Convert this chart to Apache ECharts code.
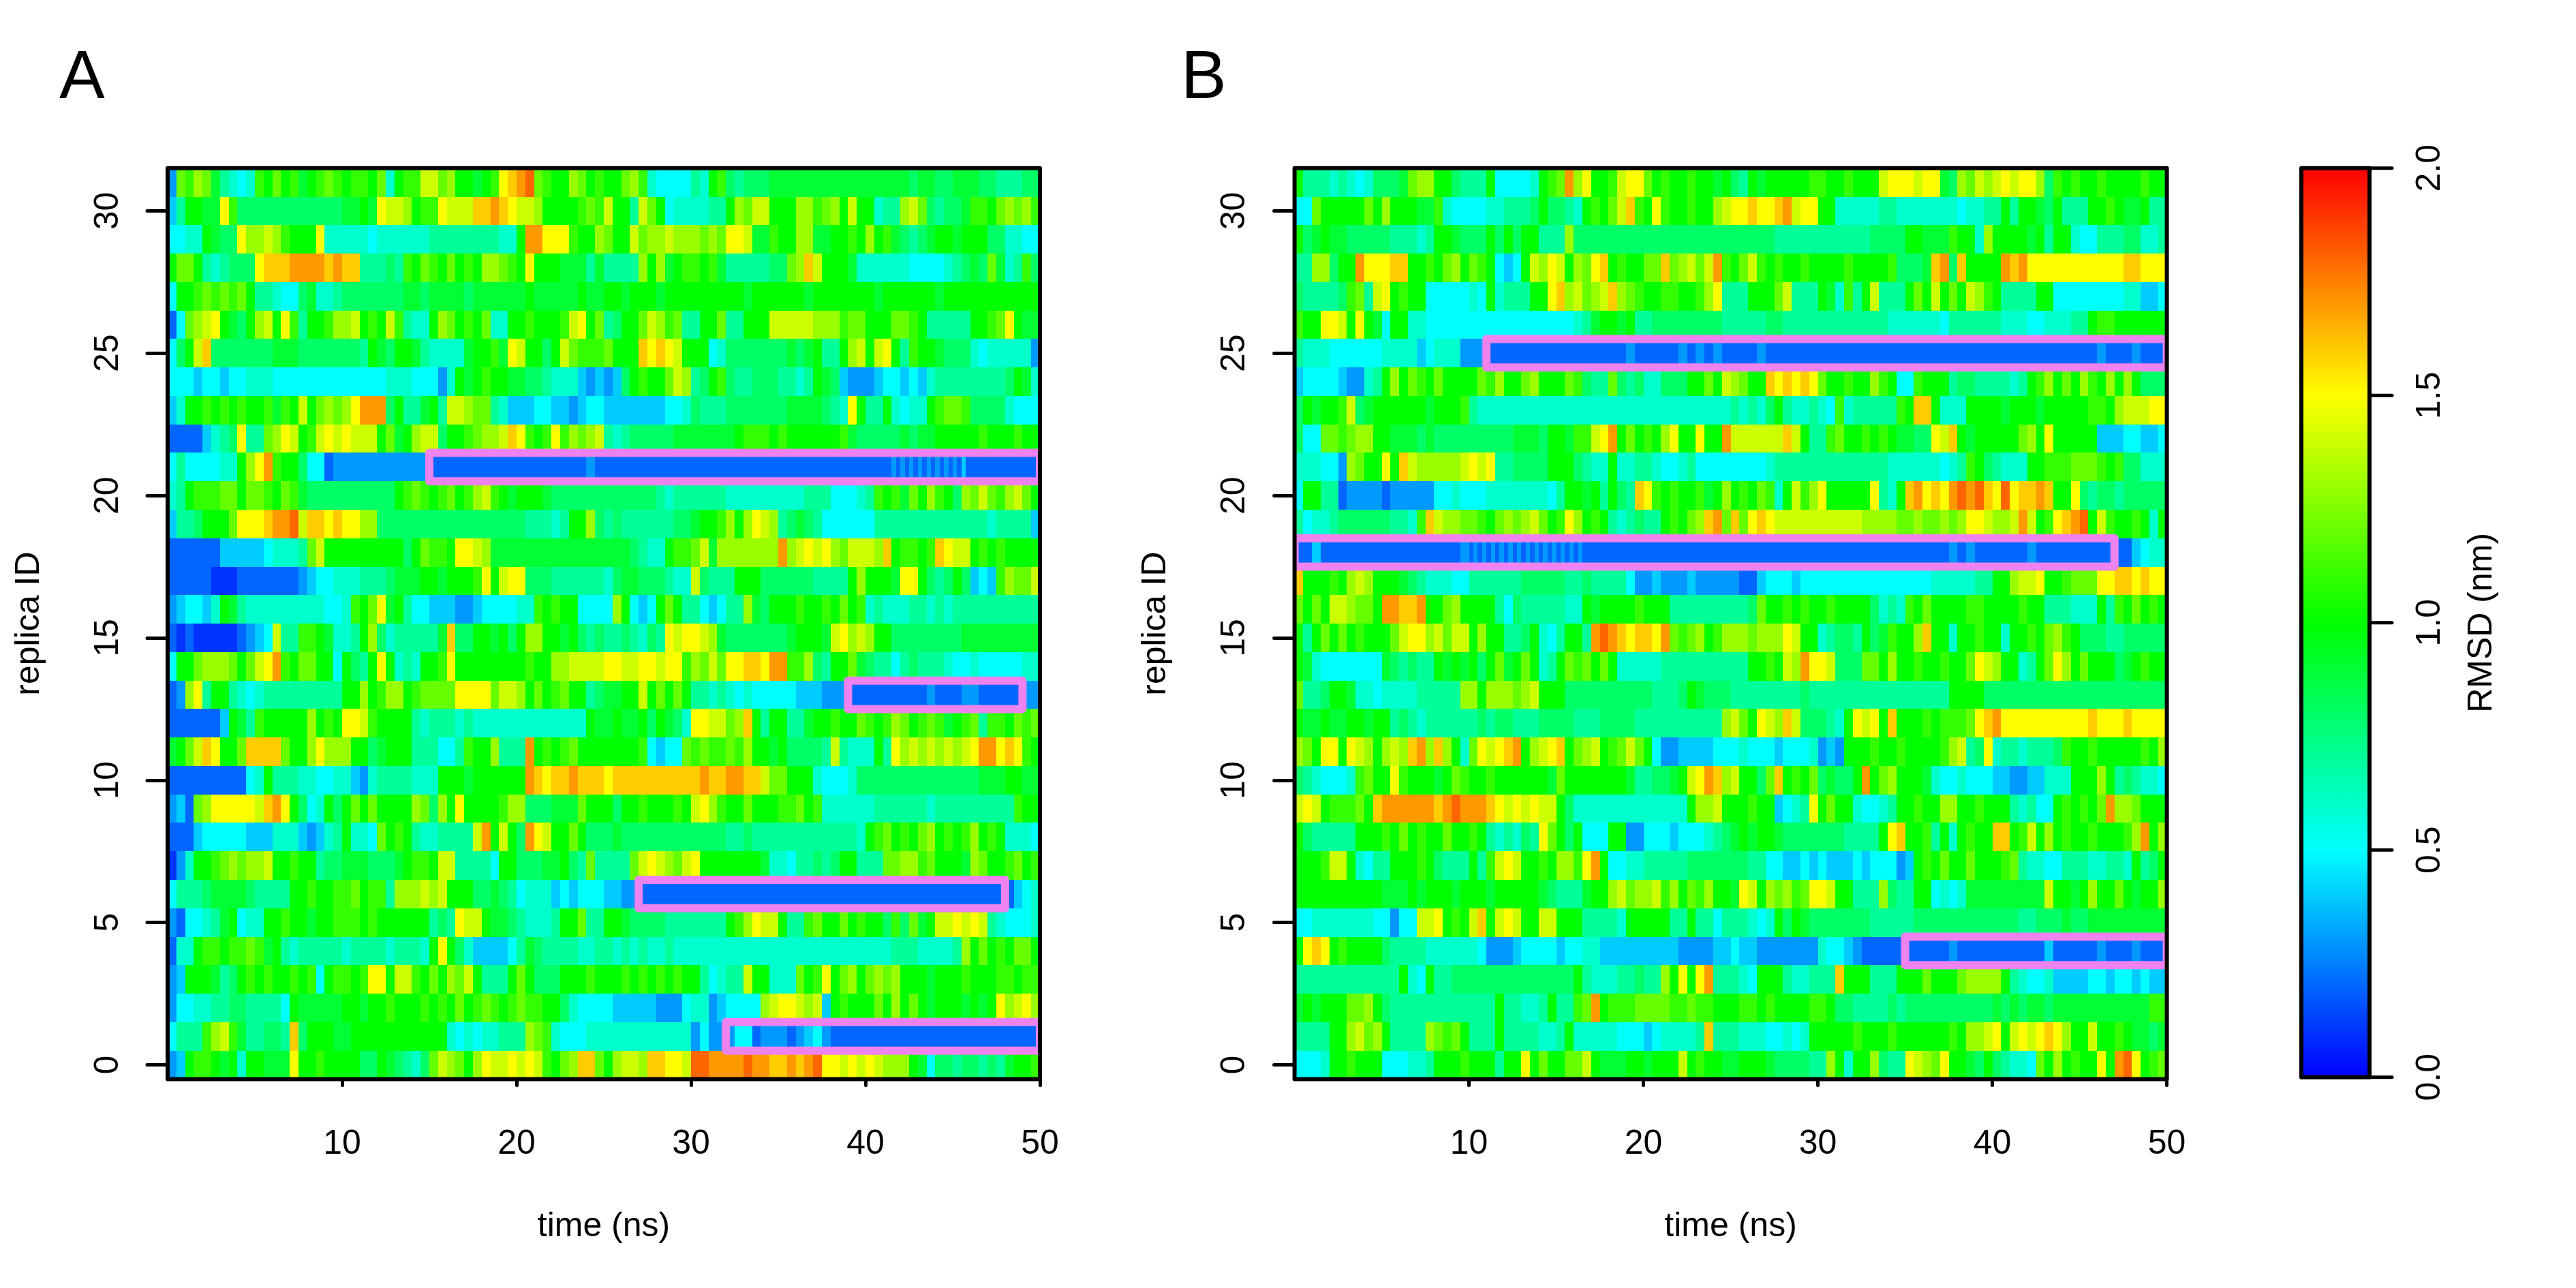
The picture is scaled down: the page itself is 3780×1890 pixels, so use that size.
<!DOCTYPE html>
<html>
<head>
<meta charset="utf-8">
<style>html,body{margin:0;padding:0;background:#fff}#c{width:3780px;height:1890px}</style>
<script src="https://cdn.jsdelivr.net/npm/echarts@6/dist/echarts.min.js"></script>
</head>
<body>
<div id="c"></div>
<script>
// RMSD. One string per replica, replica 31 first, replica 0 last.
// Each string has ten space-separated groups, one per 5 ns. Each character is an RMSD level in 0.1 nm steps:
// 0-9 = 0.0-0.9, a = 1.0, b = 1.1 ... k = 2.0
const rowsA = [
"3cbdc97656 bacab9abcb abbac6abbe ecdaa9abfg hicbaadcab aacdb65555 76ab878889 9999999999 9999989988 9998877788",
"47aa99fb88 8888888888 99a9feedab bfeeegghgf eedaaaabcb eaa7eca566 6677adceea aaddbcdaea a677dec878 89bbacdcdb",
"5566a988fd dedbaaaf66 6665666666 7777777766 ahhfffbaad caaecddedd dcdcffe99b aadd99aaba dab98789aa 9aaa886655",
"acca767888 fggghhhhgh gg77787bac bacabaddcb afaaa99979 7777dad9ab bab9777778 8cdgeaaa96 6666655556 7898c967b8",
"5aabcbcbca 7765589667 8888888998 9999899999 9a99999a99 aa9aaa9aaa aaaaaa9aaa aaa9aaaaaa a9aaaaaa9a aaaaaaaaaa",
"25cdefa98a deafb7aabd deabaeb766 adcabac66a abaaabefac 78aacedbc7 7aac77aaae eeeedddbcc aaaccba777 77aabcfa99",
"58aeg88888 8899988888 887a98aa97 66669aab9f eaa8aecbbb caaagfgfea aa56888888 8989a77ade aefa7baa98 8865666663",
"5554554556 6655555555 5555566655 536a9abaa9 9887666434 348abaaced 78ab877888 7767a98433 3455454677 7777778a96",
"46aabababa ab9baeacdc dfhhh8a779 a7eedcc764 4455443455 4444444556 8777888888 89999876fa 77a6566abc cb88886555",
"22224678f7 7cdfeabefe feeeac9ade e8aabcddeg fbabfbdcde 7678888899 99999abbba baaaaaab98 88889899aa aaabaaabaa",
"57555566ad fhbaa85523 3333333333 2222222222 2222222232 2222222222 2222222222 2222222222 22222232323232323232 32422222222222222222",
"67abbbccac cbacb98888 888888abcb abcabdeba9 aaa9888888 8888887677 7777666666 6667775556 7bab9cadba 8dcecbdeca",
"4778aaacff fghhieggfg ffdd888888 8888888888 877767aad8 7877777788 9aabdadfed 7898755555 5777777777 7777677774",
"2222224444 456667ceaa aaaaaaa8ac bbaffed999 9999999999 9998766abb ce9ddddddd hdefefdcee edgabbabgf eeababaaaa",
"2222211122 2222234556 667778999a a9aaabfaef f888777777 6899888766 e8777aaa88 88887777ad aaa9ffa878 a8454bdcce",
"345546a976 6666666655 6bacf9a755 4443345555 66babaa555 5da545aca7 754577d98a aabaabacab 6766677676 7777777777",
"2121111123 45e77bba96 67ad867777 79g88aa9a8 addaa9a878 7787687fef fed9888888 89aaa9efde daa8888888 8999999999",
"5aacdddcac efhbaccaa5 a87afa676a abfaaaaaaa abaaddeeee ffeeffeffb dcecffggfh hbbd87aac9 8775787776 5565555566",
"23df7aa765 6777777777 aadabddabc cccffffcee dacabcaa78 99aaeacaca 7767656555 5544433322 2222222322 2332222233",
"2222224a97 baaaaadaba ffebaaaa76 7776766666 66666666a9 9a99a8a986 ffeecdga7a a779aabaac babdcabcb9 abc7bbacbc",
"9acegfaacg gggcaadfdd daa89aaa77 7557baad77 7hababcaaa aaaab5455c bcbbcbdaa9 a88887e766 6a7fdedede defhhfgfba",
"2222222225 6a77766556 6436777766 6aaa9aaaaa ahgfgghggg fggggggggg ghgghhggec caaa655568 8888888888 888999aa99",
"342cdfffff eghfa856a8 acacaaaadc 8dafaaaabd d888999caa a8aabaaaba efdbaacaaa bbcab66666 6777777677 7777777baa",
"2224555554 4466643467 a665caba76 67777ehaea 8hfeaaca88 8988888888 8888778777 7777777776 abcabacdab abdaba6665",
"136aabcdcd deaabaa788 9998889abb aee77775aa 88899a87c7 777cefedce faaaaaaa96 6577878aa7 77ccddbcaa a9dcaabcab",
"5777899998 7777aabaab bcabb7ddde deaaa88987 5666454555 4433222222 2222222222 2222222222 2222222222 2222222456",
"3255679a56 6aabaa9aab bbabaaaaaa 787feea998 76667aac77 aa98888777 7777abdfee a77bcaacab aa8b8c9aee fefe765556",
"266abbabbc b9a7677777 6777767776 afa8644445 7987777667 7676766766 6666666666 6666666666 6667776666 7dacabacca",
"34aaa978ab abaabab5ab babffaeeba cadcea777a ca888aaaba aababababa a75677eaa6 66cabfacda cdcdaaa9aa abaaabbabb",
"3556677887 7775a99999 aa9aabaaab abacabcbab cbbaa86555 5444443335 66345555de ffede4abaa acadaca9aa a9a9afdefd",
"5777bdeb97 7887g8aaa9 9aaaaaaaaa aa65656677 7dcb655566 6666666666 3533355233 3234532222 2222222222 2222222222",
"34abba9a6a a999faabaa aa88a98768 cedcadfeef efebacdggc adeedggffe iihhhhihhg ghghiffefe feddda9588 7887879aab"
];
const rowsB = [
"a777676568 889cddaa87 77a55556ab chdfaabeff cabaabaa9a 87a9aaaaab baabaaaeff feff98dced efeffd8bab aabaaaabaa",
"55caaaaaca daaa99b655 55667778a8 876abacegb afbaabaade ffgffgheff aa66666776 6666665667 7a7aa98a77 7aaba99a77",
"a89a998888 877767aa98 88a8a8aa77 7d88888888 8888888888 8888877777 7777778888 aa999baa6d aaaa9a7aa6 5577788667",
"77dd8aahff fggaabacda cba545aedf eadcfgabaa ccgcdecehb acebabaaba aaabaaaab8 889gh8gaaa ahghffffff fffffggfff",
"877778bc7e fabaa55555 65a6777aaf gdecdegdcb aabbaabdf7 77aaace777 a96b7ae777 acaeacaedb a7777aa555 5555566445",
"baaffeafa9 5aa6655555 5555555555 55679aa9a7 7888888887 7777887777 7777777766 6666577777 7666556667 7abbaaaaaa",
"7666555555 6666456663 3322222222 2222222232 2222323232 2223222222 2222222222 2222222222 2222222222 2232223222",
"4555543367 adacbacaaa acbdaacdaa acb877c878 66888aacae dcaagfgfgf caabaadba5 5baaa78877 7767abdaca dbadada888",
"8a9aabe89a aaaaa9aaab 7666666666 6666666666 6666666666 76768a7667 65b677777b agga666aaa a9aaa9aaaa abbadeeeff",
"855ccbcdda a999898888 888889998a a9bbefhaca badfaafaah eeeeeegea7 7bcaababa9 988fega9aa aaacdafaaa aa44455445",
"666553dcaa fageddddde fef778888a aa8766a667 7655675555 5555677777 7777777766 6666567ba8 7666aabbbc ccbab88666",
"5aa7723333 2333335565 5566666665 7aa9a7a87g fbabaab9ad abacb6aebd faaaaaf76a ghfgfhihig fifgghgaaf 8788788888",
"7566788888 8776bgeddc cbacdcdeca bfdaba7678 77abacdghc gcfgfeeeee eeeeeddddc cdccdcdffe ddeheabfgh iaebaaba6a",
"2242222222 2222222223 23232323232323232323 23232322222222222222 2222222222 2222222222 2222222222 2222232322 2222322222 2222224566",
"gaaabadeda aa98766655 7777778888 8778777753 3433343333 3224555455 5555555555 5556666677 aadeefaabc ccffggfgff",
"cacaeedcca hhgghaacda aaa7587777 766a9aaaab aaa7777777 778caababa abaaaa8676 bacaaaabba aaabaa7776 66a7bacaba",
"a7acacabaa aceffdecee adaa778a65 7aa7hihgfg gfhcbcdabd ddcdddfeaa 67887a89ba adgaa6aaba a6aabacdba 8887788888",
"a965555555 987877a9a9 a8ac9aca67 acbcaca666 6677777777 77aabaedhf fe888ccada abaabaacfe daa67acfda caaa89abaa",
"c778aa9665 666677777d dadddcdeaa a888888888 87778a9888 7777777787 7777777777 77777aaaa8 8888888888 8888888888",
"a99a99aa9a a787677777 7878877788 8877788887 777777777d ecafedge88 876afefaga aababbbcfg hfffffffff fgfffgffff",
"dcaffafeda dedghdgda6 cfefghadef gacdeabcec a533444455 5655545556 343aaabaab aaaabde78f 67767778ba abaaaaabad",
"8765556bca afbaaa9acb aabaaaaaa9 caaaaaaa97 7889aefhgd eaa8cgabac 8988ahacda aa96556555 443344666a aada787665",
"efeabbbcag hhhhhhghih hhgfefefee a866666666 66666addea aabaa4567f acaa65567a abaaddaaba aa76755aba bachddcaaa",
"a877777aaa bacabaacaa ba767687fc a8a555aa33 5554555678 9a9aa98888 8887777afg aab7a6abaa ggabeadaba abaaabdhad",
"aaabeea657 7aaaba8777 a7befeaaba ddbfha5566 7777788888 8877554454 5444545553 4abacaacaa abc7665577 766776a78a",
"aaaaaaaaaa 999a9aaa9a aa9aaaaa98 7779aadecd debdacbdaa 9feadcdbcf feaa777d87 7aa5656999 999999eaa9 adaaca9aad",
"5566666665 5355eefaba egaefeaaee aaa77776aa aaa77a7757 77656a8a98 8888887777 7888888888 8887788898 8999999999",
"afgfabaaaa 8777766666 6533345555 4556644444 4444333344 5443333333 6554322222 2222232222 2222224222 2232223222",
"7777777777 77a65a7788 8888888888 88a7666778 77dafafh77 765aaa7667 77gaaa777a aacaaacddd da76556444 4554554544",
"9a9aaaccda 8777777777 777a77667a 77bchabbbc cccbbcbbaa abbabaaaab ba88777787 8888888888 9898998999 99999999bb",
"7777aadecd a7777dcbca 777a777766 7a66666555 4566667g77 766655656a aaaabaaaba aaaaabadde faefefgfda aeaaba9989",
"5556aabaaa 555667aaab aaa7aafaca accea999aa 9aaaeabaa9 9aaa988887 7da6aad877 fedcfaa98a 87665cadab aafahifabc"
];
// Highlighted stretches: [start ns, end ns, replica]
const boxesA = [[15,50,21],[39,49,13],[27,48,6],[32,50,1]];
const boxesB = [[11,50,25],[0,47,18],[35,50,4]];
const xTicks = [10,20,30,40,50];
const yTicks = [0,5,10,15,20,25,30];
const barTicks = [0,0.5,1,1.5,2];
const barColors = ['#0000ff','#00ffff','#00ff00','#ffff00','#ff0000'];

const FONT = 'Liberation Sans';
const LEVELS = '0123456789abcdefghijk';
const GROUP_NS = 5;

function decode(rows){
  const out = [];
  rows.forEach((row, i) => {
    const replica = rows.length - 1 - i;
    row.trim().split(/\s+/).forEach((group, g) => {
      const step = GROUP_NS / group.length;
      for (let k = 0; k < group.length; k++) {
        out.push([g*GROUP_NS + k*step, g*GROUP_NS + (k+1)*step, replica, LEVELS.indexOf(group[k]) * 0.1]);
      }
    });
  });
  return out;
}

function renderCell(params, api){
  const a = api.coord([api.value(0), api.value(2) + 0.5]);
  const b = api.coord([api.value(1), api.value(2) - 0.5]);
  const x0 = Math.round(a[0]), x1 = Math.round(b[0]), y0 = Math.round(a[1]), y1 = Math.round(b[1]);
  return {type:'rect', shape:{x:x0, y:y0, width:x1-x0, height:y1-y0}, style:{fill:api.visual('color'), stroke:null}};
}
function renderBox(params, api){
  const a = api.coord([api.value(0), api.value(2) + 0.5]);
  const b = api.coord([api.value(1), api.value(2) - 0.5]);
  return {type:'rect', shape:{x:a[0], y:a[1], width:b[0]-a[0], height:b[1]-a[1]},
    style:{fill:null, stroke:'#ee82ee', lineWidth:12, lineJoin:'round'}};
}
function renderFrame(params){
  const c = params.coordSys;
  return {type:'rect', shape:{x:c.x, y:c.y, width:c.width, height:c.height},
    style:{fill:null, stroke:'#000', lineWidth:6, lineJoin:'round'}};
}
// Colour bar: a single rect with the same colour stops the visualMap uses for the cells.
function renderBar(params){
  const c = params.coordSys;
  const stops = barColors.map((color, i) => ({offset:1 - i/(barColors.length-1), color})).reverse();
  return {type:'rect', shape:{x:c.x, y:c.y, width:c.width, height:c.height},
    style:{stroke:null, fill:new echarts.graphic.LinearGradient(0,0,0,1,stops)}};
}
function renderBarTick(params, api){
  const p = api.coord([api.value(0), api.value(1)]);
  return {type:'line', shape:{x1:p[0], y1:p[1], x2:p[0]+33, y2:p[1]},
    style:{stroke:'#000', lineWidth:5, lineCap:'round'}};
}

const tickStyle = {show:true, length:30, lineStyle:{color:'#000', width:5, cap:'round'}};
const labelStyle = {fontFamily:FONT, fontSize:50, color:'#000'};

function xAxisFor(grid){
  return {gridIndex:grid, type:'value', min:0, max:50, position:'bottom', splitLine:{show:false},
    axisLine:{show:false},
    axisTick:Object.assign({customValues:xTicks}, tickStyle),
    axisLabel:Object.assign({customValues:xTicks, margin:71, showMinLabel:true, showMaxLabel:true}, labelStyle),
    name:'time (ns)', nameLocation:'middle', nameGap:192, nameTextStyle:labelStyle};
}
function yAxisFor(grid){
  return {gridIndex:grid, type:'value', min:-0.5, max:31.5, position:'left', splitLine:{show:false},
    axisLine:{show:false},
    axisTick:Object.assign({customValues:yTicks}, tickStyle),
    axisLabel:Object.assign({customValues:yTicks, rotate:90, margin:62, showMinLabel:true, showMaxLabel:true}, labelStyle),
    name:'replica ID', nameLocation:'middle', nameRotate:90, nameGap:178, nameTextStyle:labelStyle};
}

function panelSeries(rows, boxes, idx){
  return [
    {type:'custom', xAxisIndex:idx, yAxisIndex:idx, renderItem:renderCell, data:decode(rows),
     encode:{x:[0,1], y:2}, dimensions:['start','end','replica','rmsd'], clip:true, silent:true, progressive:0, z:2},
    {type:'custom', xAxisIndex:idx, yAxisIndex:idx, renderItem:renderBox, data:boxes,
     encode:{x:[0,1], y:2}, clip:true, silent:true, z:3},
    {type:'custom', xAxisIndex:idx, yAxisIndex:idx, renderItem:renderFrame, data:[[25,15]],
     encode:{x:0, y:1}, clip:false, silent:true, z:10}
  ];
}

const chart = echarts.init(document.getElementById('c'), null, {renderer:'canvas', width:3780, height:1890});
chart.setOption({
  animation:false,
  backgroundColor:'#fff',
  title:[
    {text:'A', left:87, top:66, padding:0, textStyle:{fontFamily:FONT, fontWeight:'normal', fontSize:100, color:'#000'}},
    {text:'B', left:1733, top:66, padding:0, textStyle:{fontFamily:FONT, fontWeight:'normal', fontSize:100, color:'#000'}}
  ],
  grid:[
    {left:246, width:1280, top:246.8, height:1336.6},
    {left:1899.6, width:1280, top:246.8, height:1336.6},
    {left:3377, width:100, top:246.8, height:1334}
  ],
  xAxis:[
    xAxisFor(0),
    xAxisFor(1),
    {gridIndex:2, type:'value', min:0, max:1, axisLine:{show:false}, axisTick:{show:false}, axisLabel:{show:false}, splitLine:{show:false}}
  ],
  yAxis:[
    yAxisFor(0),
    yAxisFor(1),
    {gridIndex:2, type:'value', min:0, max:2, position:'right', splitLine:{show:false},
     axisLine:{show:false}, axisTick:{show:false},
     axisLabel:Object.assign({customValues:barTicks, rotate:90, margin:64, showMinLabel:true, showMaxLabel:true,
       formatter:v => v.toFixed(1)}, labelStyle),
     name:'RMSD (nm)', nameLocation:'middle', nameRotate:90, nameGap:140, nameTextStyle:labelStyle}
  ],
  visualMap:{
    type:'continuous', show:false, min:0, max:2, dimension:3, seriesIndex:[0,3],
    inRange:{color:barColors}
  },
  series:[
    ...panelSeries(rowsA, boxesA, 0),
    ...panelSeries(rowsB, boxesB, 1),
    {type:'custom', xAxisIndex:2, yAxisIndex:2, renderItem:renderBar, data:[[0.5,1]],
     encode:{x:0, y:1}, clip:false, silent:true, z:5},
    {type:'custom', xAxisIndex:2, yAxisIndex:2, renderItem:renderFrame, data:[[0.5,1]],
     encode:{x:0, y:1}, clip:false, silent:true, z:10},
    {type:'custom', xAxisIndex:2, yAxisIndex:2, renderItem:renderBarTick, data:barTicks.map(v => [1, v]),
     encode:{x:0, y:1}, clip:false, silent:true, z:11}
  ]
});
</script>
</body>
</html>
